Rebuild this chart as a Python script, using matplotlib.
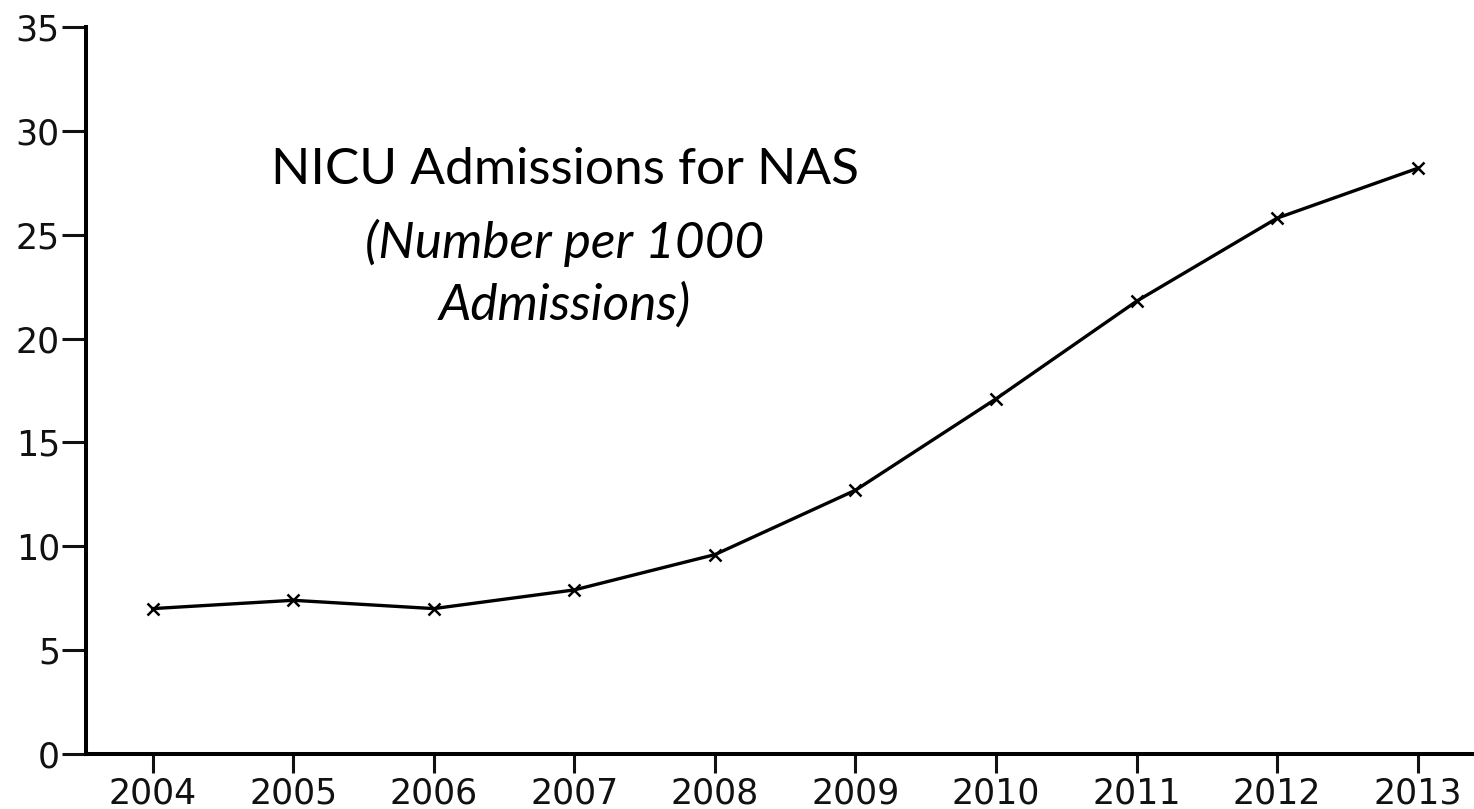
import matplotlib.pyplot as plt

# --- Data ---
years = [2004, 2005, 2006, 2007, 2008, 2009, 2010, 2011, 2012, 2013]
rate = [7.0, 7.4, 7.0, 7.9, 9.6, 12.7, 17.1, 21.8, 25.8, 28.2]
y_ticks = [0, 5, 10, 15, 20, 25, 30, 35]

fig = plt.figure(figsize=(14.74, 8.09), dpi=100)
ax = fig.add_axes([86 / 1474, 1 - 754 / 809, 1 - 86 / 1474, (754 - 27) / 809])

ax.plot(years, rate, color='black', linewidth=2.4, marker='x',
        markersize=9, markeredgewidth=1.8)

ax.set_xlim(2004 - 0.474, 2013 + 0.40)
ax.set_ylim(0, 35)
ax.set_xticks(years)
ax.set_yticks(y_ticks)

for side in ['top', 'right']:
    ax.spines[side].set_visible(False)
for side in ['left', 'bottom']:
    ax.spines[side].set_linewidth(2.9)

ax.tick_params(axis='y', length=17.3, width=2.2, pad=1.5, labelsize=25, colors='#111111')
ax.tick_params(axis='x', length=13.7, width=2.2, pad=2.5, labelsize=25, colors='#111111')

# title block sits inside the plot area, upper left
cx = (565 - 86) / (1474 - 86)
ax.text(cx, 1 - (170 - 27) / 727, 'NICU Admissions for NAS',
        transform=ax.transAxes, ha='center', va='center', fontsize=37,
        family='Lato')
ax.text(cx, 1 - (243 - 27) / 727, '(Number per 1000',
        transform=ax.transAxes, ha='center', va='center', fontsize=37,
        family='Lato', style='italic')
ax.text(cx, 1 - (305 - 27) / 727, 'Admissions)',
        transform=ax.transAxes, ha='center', va='center', fontsize=37,
        family='Lato', style='italic')

fig.savefig('out.png', dpi=100)
